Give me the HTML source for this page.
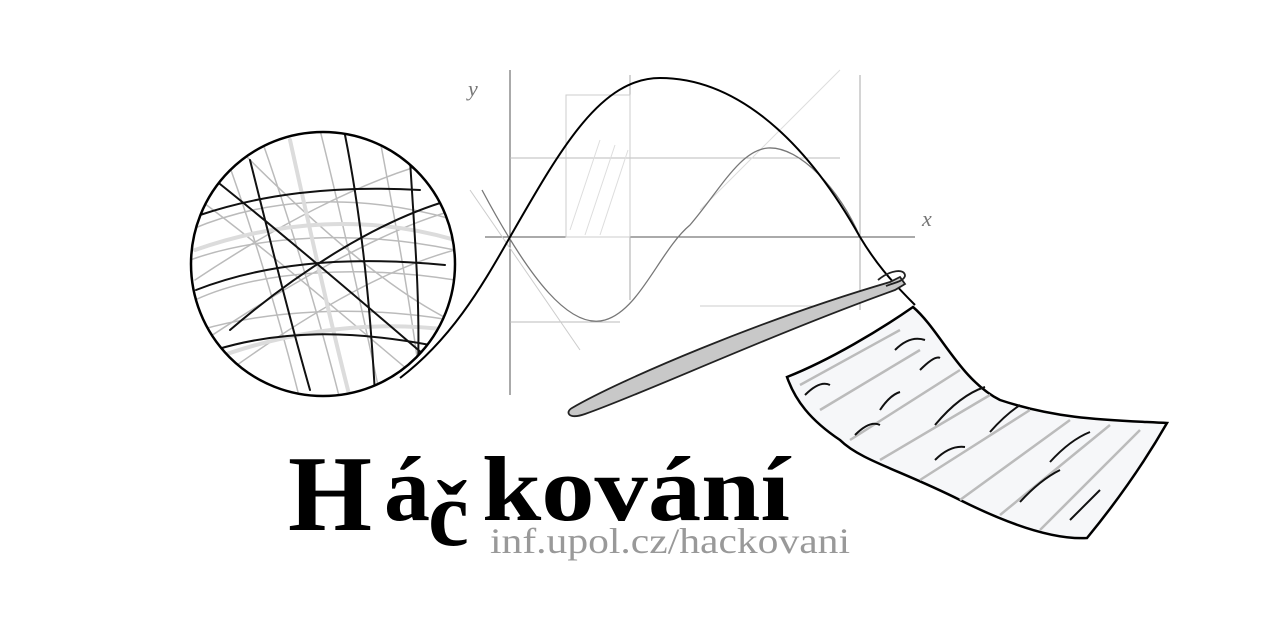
<!DOCTYPE html>
<html><head><meta charset="utf-8"><style>
html,body{margin:0;padding:0;background:#fff;width:1280px;height:640px;overflow:hidden}
svg{display:block}
</style></head><body>
<svg width="1280" height="640" viewBox="0 0 1280 640">
<defs><clipPath id="ballclip"><circle cx="323" cy="264" r="132"/></clipPath></defs>
<g stroke="#555" fill="none" stroke-width="1">
  <line x1="510" y1="70" x2="510" y2="395"/>
  <line x1="485" y1="237" x2="915" y2="237"/>
  <line x1="630" y1="75" x2="630" y2="300" stroke="#aaa"/>
  <line x1="860" y1="75" x2="860" y2="310" stroke="#aaa"/>
  <line x1="510" y1="158" x2="840" y2="158" stroke="#bbb"/>
  <line x1="510" y1="322" x2="620" y2="322" stroke="#bbb"/>
  <line x1="700" y1="306" x2="820" y2="306" stroke="#ccc"/>
  <line x1="470" y1="190" x2="580" y2="350" stroke="#ccc"/>
  <line x1="700" y1="210" x2="840" y2="70" stroke="#ddd"/>
  <path d="M566 95 L566 237 L630 237 L630 95 Z" stroke="#ccc" fill="none"/>
  <g stroke="#ddd"><line x1="570" y1="230" x2="600" y2="140"/><line x1="585" y1="235" x2="615" y2="145"/><line x1="600" y1="235" x2="628" y2="150"/></g>
</g>
<text x="468" y="96" font-family="Liberation Serif, serif" font-size="22" font-style="italic" fill="#777">y</text>
<text x="922" y="226" font-family="Liberation Serif, serif" font-size="22" font-style="italic" fill="#777">x</text>
<path d="M482 190 C530 280,570 330,605 320 C640 310,660 250,690 225 C720 190,740 150,768 148 C800 146,840 190,860 237" fill="none" stroke="#777" stroke-width="1.3"/>
<g>
  <circle cx="323" cy="264" r="132" fill="#fff"/>
  <g clip-path="url(#ballclip)" fill="none" stroke-linecap="round">
    <g stroke="#bbb" stroke-width="1.5">
      <path d="M190 230 C260 200,350 190,455 220"/><path d="M190 260 C260 235,360 230,455 250"/>
      <path d="M195 300 C260 270,360 265,455 280"/><path d="M200 330 C270 310,360 305,450 320"/>
      <path d="M220 140 C250 220,280 320,300 400"/><path d="M260 135 C290 220,320 320,340 400"/>
      <path d="M320 130 C340 210,360 300,380 395"/><path d="M380 140 C395 220,410 300,420 380"/>
      <path d="M200 200 C280 260,360 330,420 380"/><path d="M240 150 C320 230,390 290,450 320"/>
      <path d="M195 280 C270 230,360 180,440 160"/><path d="M205 340 C280 290,380 230,455 210"/>
      <path d="M230 370 C300 320,380 270,455 250"/>
    </g>
    <g stroke="#dcdcdc" stroke-width="4">
      <path d="M195 250 C280 220,370 215,455 240"/><path d="M210 360 C290 330,370 320,450 330"/>
      <path d="M290 140 C310 230,330 320,350 398"/>
    </g>
    <g stroke="#111" stroke-width="2">
      <path d="M200 215 C260 195,330 185,420 190"/><path d="M196 290 C260 265,340 255,445 265"/>
      <path d="M215 350 C280 330,350 330,430 345"/><path d="M250 160 C270 240,290 320,310 390"/>
      <path d="M345 135 C360 210,370 300,375 395"/><path d="M410 160 C415 240,420 300,418 370"/>
      <path d="M215 180 C290 240,360 300,430 360"/><path d="M230 330 C300 270,380 220,450 200"/>
    </g>
  </g>
  <circle cx="323" cy="264" r="132" fill="none" stroke="#000" stroke-width="2.5"/>
</g>
<path d="M400 378 C450 340,480 290,510 237 C560 150,600 78,660 78 C730 78,800 130,860 237 C875 262,890 280,915 305" fill="none" stroke="#000" stroke-width="2"/>
<g>
  <path d="M572 408 C620 380,760 320,890 282 L900 277 L905 284 L895 290 C770 335,640 395,585 414 C568 420,565 412,572 408 Z" fill="#c8c8c8" stroke="#222" stroke-width="1.8"/>
  <path d="M878 280 C890 270,905 268,905 276 C903 282,893 283,886 286" fill="none" stroke="#222" stroke-width="1.8"/>
</g>
<g>
  <path d="M787 377 C830 360,880 330,913 307 C940 330,960 380,1000 400 C1060 420,1110 420,1167 423 C1140 470,1110 510,1087 538 C1050 540,1000 520,960 500 C900 470,860 460,840 440 C810 420,795 400,787 377 Z" fill="#f6f7f9" stroke="#000" stroke-width="2.5"/>
  <g fill="none" stroke="#bbb" stroke-width="2.5">
    <path d="M800 385 L900 330"/><path d="M820 410 L920 350"/><path d="M850 440 L960 370"/><path d="M880 460 L990 395"/>
    <path d="M920 480 L1030 410"/><path d="M960 500 L1070 420"/><path d="M1000 515 L1110 425"/><path d="M1040 530 L1140 430"/>
  </g>
  <g fill="none" stroke="#111" stroke-width="2">
    <path d="M805 395 Q820 380,830 385 M895 350 Q910 335,925 340 M920 370 Q935 355,940 358"/>
    <path d="M855 435 Q870 420,880 425 M880 410 Q890 395,900 392 M935 460 Q950 445,965 447"/>
    <path d="M935 425 Q960 395,985 387 M990 432 Q1005 415,1020 405 M1050 462 Q1070 440,1090 432"/>
    <path d="M1020 502 Q1040 480,1060 470 M1070 520 Q1090 500,1100 490"/>
  </g>
</g>
<g font-family="Liberation Serif, serif" font-weight="bold" fill="#000">
  <text x="288" y="530" font-size="108">H</text>
  <text x="384" y="520" font-size="92">á</text>
  <text x="428" y="545" font-size="92">č</text>
  <text x="482" y="520" font-size="92" textLength="308" lengthAdjust="spacingAndGlyphs">kování</text>
</g>
<text x="490" y="553" font-family="Liberation Serif, serif" font-size="36" fill="#999" textLength="360" lengthAdjust="spacingAndGlyphs">inf.upol.cz/hackovani</text>
</svg>
</body></html>
